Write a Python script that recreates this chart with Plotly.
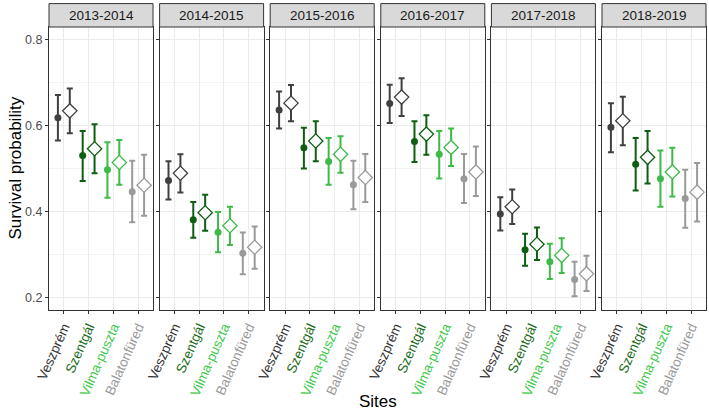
import plotly.graph_objects as go

periods = ["2013-2014", "2014-2015", "2015-2016", "2016-2017", "2017-2018", "2018-2019"]
sites = ["Veszprém", "Szentgál", "Vilma-puszta", "Balatonfüred"]
site_colors = ["#404040", "#0e5e12", "#3dba48", "#9a9a9a"]
label_colors = ["#333333", "#1a6b1a", "#40c84a", "#999999"]

# filled-circle estimates (per period, per site)
est_a = [
    [0.618, 0.530, 0.497, 0.446],
    [0.472, 0.381, 0.352, 0.303],
    [0.636, 0.548, 0.516, 0.462],
    [0.651, 0.563, 0.533, 0.476],
    [0.394, 0.311, 0.283, 0.242],
    [0.596, 0.510, 0.476, 0.430],
]
lo_a = [
    [0.565, 0.471, 0.432, 0.375],
    [0.428, 0.339, 0.305, 0.254],
    [0.593, 0.500, 0.462, 0.405],
    [0.606, 0.515, 0.477, 0.420],
    [0.356, 0.274, 0.243, 0.203],
    [0.538, 0.449, 0.411, 0.362],
]
hi_a = [
    [0.671, 0.587, 0.561, 0.518],
    [0.517, 0.422, 0.399, 0.351],
    [0.679, 0.595, 0.571, 0.518],
    [0.695, 0.610, 0.587, 0.534],
    [0.433, 0.348, 0.325, 0.283],
    [0.652, 0.571, 0.542, 0.497],
]
# open-diamond estimates
est_b = [
    [0.634, 0.546, 0.514, 0.461],
    [0.489, 0.397, 0.367, 0.317],
    [0.652, 0.564, 0.533, 0.479],
    [0.666, 0.580, 0.549, 0.492],
    [0.411, 0.324, 0.298, 0.255],
    [0.611, 0.526, 0.492, 0.445],
]
lo_b = [
    [0.582, 0.489, 0.462, 0.390],
    [0.444, 0.355, 0.322, 0.267],
    [0.610, 0.517, 0.490, 0.422],
    [0.622, 0.532, 0.506, 0.436],
    [0.371, 0.287, 0.257, 0.215],
    [0.554, 0.465, 0.435, 0.377],
]
hi_b = [
    [0.686, 0.603, 0.566, 0.532],
    [0.533, 0.439, 0.411, 0.365],
    [0.694, 0.610, 0.575, 0.534],
    [0.710, 0.624, 0.593, 0.551],
    [0.451, 0.363, 0.338, 0.297],
    [0.667, 0.587, 0.548, 0.513],
]

y_ticks = [0.2, 0.4, 0.6, 0.8]
y_minor = [0.3, 0.5, 0.7]

FONT = "Liberation Sans, Arial, sans-serif"
W, H = 709, 416
ML, MR, MT, MB = 49, 3, 27, 106
PW = W - ML - MR
PH = H - MT - MB
panel_px = 104.0
gap_px = (PW - 6 * panel_px) / 5
dodge = 0.24

fig = go.Figure()
layout = {}
shapes = []
annotations = []

ticktext = [f'<span style="color:{c}">{s}</span>' for s, c in zip(sites, label_colors)]

for p, period in enumerate(periods):
    ax = "" if p == 0 else str(p + 1)
    xref = "x" + ax
    yref = "y" + ax
    for s, site in enumerate(sites):
        col = site_colors[s]
        xa = s + 1 - dodge
        xb = s + 1 + dodge
        fig.add_trace(go.Scatter(
            x=[xa], y=[est_a[p][s]], xaxis=xref, yaxis=yref, mode="markers",
            marker=dict(symbol="circle", size=7, color=col, line=dict(width=0)),
            error_y=dict(type="data", symmetric=False,
                         array=[hi_a[p][s] - est_a[p][s]],
                         arrayminus=[est_a[p][s] - lo_a[p][s]],
                         color=col, thickness=2, width=3),
            showlegend=False, hoverinfo="skip"))
        fig.add_trace(go.Scatter(
            x=[xb], y=[est_b[p][s]], xaxis=xref, yaxis=yref, mode="markers",
            marker=dict(symbol="diamond", size=11, color="white", line=dict(width=1.3, color=col)),
            error_y=dict(type="data", symmetric=False,
                         array=[hi_b[p][s] - est_b[p][s]],
                         arrayminus=[est_b[p][s] - lo_b[p][s]],
                         color=col, thickness=2, width=3),
            showlegend=False, hoverinfo="skip"))

    x0 = p * (panel_px + gap_px) / PW
    x1 = (p * (panel_px + gap_px) + panel_px) / PW
    layout["xaxis" + ax] = dict(
        domain=[x0, x1], range=[0.4, 4.6], anchor=yref,
        tickvals=[1, 2, 3, 4], ticktext=ticktext, tickangle=-66,
        tickfont=dict(family=FONT, size=13.5),
        showgrid=True, gridcolor="#ebebeb", gridwidth=1,
        showline=True, linecolor="#333333", linewidth=1, mirror=True,
        ticks="outside", ticklen=3, tickcolor="#333333", zeroline=False,
    )
    layout["yaxis" + ax] = dict(
        domain=[0, 1], range=[0.171, 0.829], anchor=xref,
        tickvals=y_ticks, ticktext=[f"{v:.1f}" for v in y_ticks],
        showticklabels=(p == 0),
        tickfont=dict(family=FONT, size=12.5, color="#4d4d4d"),
        showgrid=True, gridcolor="#ebebeb", gridwidth=1,
        minor=dict(tickvals=y_minor, showgrid=True, gridcolor="#f4f4f4", gridwidth=0.6, ticks=""),
        showline=True, linecolor="#333333", linewidth=1, mirror=True,
        ticks="outside", ticklen=3, tickcolor="#333333", zeroline=False,
    )
    sy0 = 1.0
    sy1 = 1.0 + 23.4 / PH
    shapes.append(dict(type="rect", xref="paper", yref="paper", x0=x0, x1=x1, y0=sy0, y1=sy1,
                       fillcolor="#d9d9d9", line=dict(color="#333333", width=1), layer="above"))
    annotations.append(dict(text=period, xref="paper", yref="paper", x=(x0 + x1) / 2,
                            y=(sy0 + sy1) / 2, xanchor="center", yanchor="middle",
                            showarrow=False, font=dict(family=FONT, size=13.5, color="#1a1a1a")))

annotations.append(dict(text="Sites", xref="paper", yref="paper", x=0.5, y=-(401 - (H - MB)) / PH,
                        xanchor="center", yanchor="middle", showarrow=False,
                        font=dict(family=FONT, size=17, color="black")))
annotations.append(dict(text="Survival probability", xref="paper", yref="paper",
                        x=-(ML - 15) / PW, y=0.5, xanchor="center", yanchor="middle",
                        textangle=-90, showarrow=False,
                        font=dict(family=FONT, size=17, color="black")))

fig.update_layout(
    width=W, height=H,
    margin=dict(l=ML, r=MR, t=MT, b=MB),
    paper_bgcolor="white", plot_bgcolor="white",
    shapes=shapes, annotations=annotations,
    font=dict(family=FONT),
    **layout,
)

fig.write_html("out.html")
